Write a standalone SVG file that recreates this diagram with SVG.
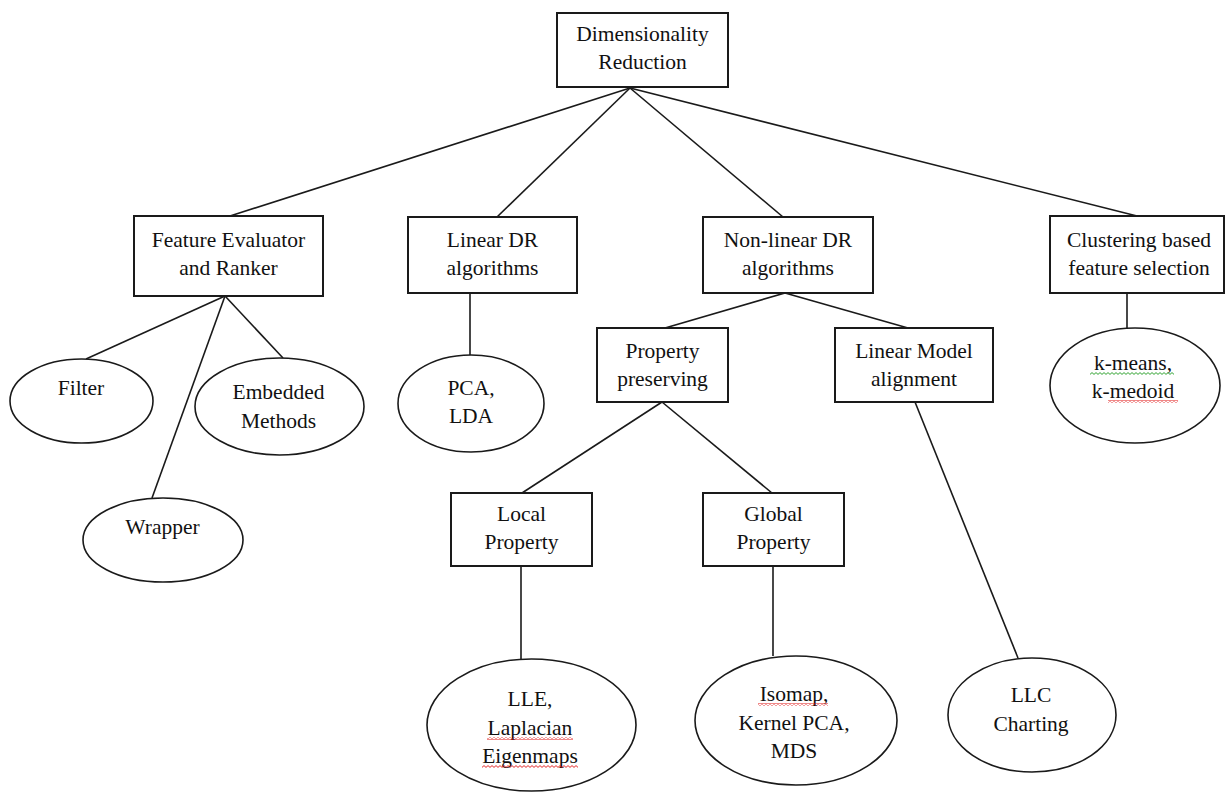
<svg xmlns="http://www.w3.org/2000/svg" width="1226" height="794" viewBox="0 0 1226 794">
  <style>
    .box { fill: #ffffff; stroke: #1a1a1a; stroke-width: 2; }
    .ell { fill: #ffffff; stroke: #1a1a1a; stroke-width: 1.6; }
    .conn line { stroke: #1a1a1a; stroke-width: 1.6; }
    text { font-family: "Liberation Serif", "Times New Roman", serif; font-size: 21.5px; fill: #111111; text-anchor: middle; }
  </style>
  <defs>
    <pattern id="sqRed" width="4" height="3" patternUnits="userSpaceOnUse">
      <path d="M0 0.6 L2 2.4 L4 0.6" fill="none" stroke="#e01010" stroke-width="0.9"/>
    </pattern>
    <pattern id="sqGreen" width="4" height="3" patternUnits="userSpaceOnUse">
      <path d="M0 0.6 L2 2.4 L4 0.6" fill="none" stroke="#1a9a1a" stroke-width="0.9"/>
    </pattern>
  </defs>
  <rect width="1226" height="794" fill="#ffffff"/>

  <g id="connectors" class="conn">
    <line x1="630" y1="88" x2="230" y2="216"/>
    <line x1="630" y1="88" x2="497" y2="217"/>
    <line x1="630" y1="88" x2="783" y2="217"/>
    <line x1="630" y1="88" x2="1137" y2="216"/>
    <line x1="225" y1="296" x2="86" y2="359"/>
    <line x1="225" y1="296" x2="152" y2="498"/>
    <line x1="225" y1="296" x2="283" y2="358"/>
    <line x1="470" y1="293" x2="470" y2="355"/>
    <line x1="785" y1="293" x2="665" y2="328"/>
    <line x1="785" y1="293" x2="908" y2="328"/>
    <line x1="662" y1="402" x2="522" y2="493"/>
    <line x1="662" y1="402" x2="772" y2="493"/>
    <line x1="915" y1="402" x2="1018" y2="658"/>
    <line x1="521" y1="566" x2="521" y2="659"/>
    <line x1="773" y1="566" x2="773" y2="656"/>
    <line x1="1127" y1="293" x2="1127" y2="328"/>
  </g>

  <g id="dimensionality-reduction">
    <rect class="box" x="557" y="13" width="171" height="74"/>
    <text x="642.5" y="41">Dimensionality</text>
    <text x="642.5" y="69">Reduction</text>
  </g>

  <g id="feature-evaluator">
    <rect class="box" x="134" y="216" width="189" height="80"/>
    <text x="228.5" y="247">Feature Evaluator</text>
    <text x="228.5" y="275">and Ranker</text>
  </g>

  <g id="linear-dr">
    <rect class="box" x="408" y="217" width="169" height="76"/>
    <text x="492.5" y="247">Linear DR</text>
    <text x="492.5" y="275">algorithms</text>
  </g>

  <g id="nonlinear-dr">
    <rect class="box" x="703" y="217" width="170" height="76"/>
    <text x="788" y="247">Non-linear DR</text>
    <text x="788" y="275">algorithms</text>
  </g>

  <g id="clustering">
    <rect class="box" x="1050" y="216" width="174" height="77"/>
    <text x="1139" y="247">Clustering based</text>
    <text x="1139" y="275">feature selection</text>
  </g>

  <g id="property-preserving">
    <rect class="box" x="597" y="328" width="131" height="74"/>
    <text x="662.5" y="358">Property</text>
    <text x="662.5" y="386">preserving</text>
  </g>

  <g id="linear-model-alignment">
    <rect class="box" x="835" y="328" width="158" height="74"/>
    <text x="914" y="358">Linear Model</text>
    <text x="914" y="386">alignment</text>
  </g>

  <g id="local-property">
    <rect class="box" x="451" y="493" width="141" height="73"/>
    <text x="521.5" y="521">Local</text>
    <text x="521.5" y="549">Property</text>
  </g>

  <g id="global-property">
    <rect class="box" x="703" y="493" width="141" height="73"/>
    <text x="773.5" y="521">Global</text>
    <text x="773.5" y="549">Property</text>
  </g>

  <g id="filter">
    <ellipse class="ell" cx="81.5" cy="401" rx="71.5" ry="42"/>
    <text x="81" y="395">Filter</text>
  </g>

  <g id="embedded-methods">
    <ellipse class="ell" cx="279.5" cy="406.5" rx="84.5" ry="48.5"/>
    <text x="278.5" y="399">Embedded</text>
    <text x="278.5" y="428">Methods</text>
  </g>

  <g id="wrapper">
    <ellipse class="ell" cx="163" cy="540" rx="80" ry="42"/>
    <text x="162.5" y="534">Wrapper</text>
  </g>

  <g id="pca-lda">
    <ellipse class="ell" cx="471" cy="403.5" rx="73" ry="48.5"/>
    <text x="471" y="395">PCA,</text>
    <text x="471" y="423">LDA</text>
  </g>

  <g id="kmeans">
    <ellipse class="ell" cx="1135" cy="385.5" rx="85" ry="57.5"/>
    <text x="1133" y="370">k-means,</text>
    <text x="1133" y="398">k-medoid</text>
    <rect x="1090" y="372" width="84" height="3" fill="url(#sqGreen)"/>
    <rect x="1108" y="400" width="70" height="3" fill="url(#sqRed)"/>
  </g>

  <g id="lle">
    <ellipse class="ell" cx="531.5" cy="725" rx="104.5" ry="66"/>
    <text x="530" y="706">LLE,</text>
    <text x="530" y="735">Laplacian</text>
    <text x="530" y="763">Eigenmaps</text>
    <rect x="487" y="737" width="86" height="3" fill="url(#sqRed)"/>
    <rect x="482" y="765" width="96" height="3" fill="url(#sqRed)"/>
  </g>

  <g id="isomap">
    <ellipse class="ell" cx="796" cy="720.5" rx="101" ry="64.5"/>
    <text x="794" y="701">Isomap,</text>
    <text x="794" y="730">Kernel PCA,</text>
    <text x="794" y="758">MDS</text>
    <rect x="758" y="703" width="70" height="3" fill="url(#sqRed)"/>
  </g>

  <g id="llc">
    <ellipse class="ell" cx="1032" cy="715" rx="84" ry="57"/>
    <text x="1031" y="702">LLC</text>
    <text x="1031" y="731">Charting</text>
  </g>
</svg>
